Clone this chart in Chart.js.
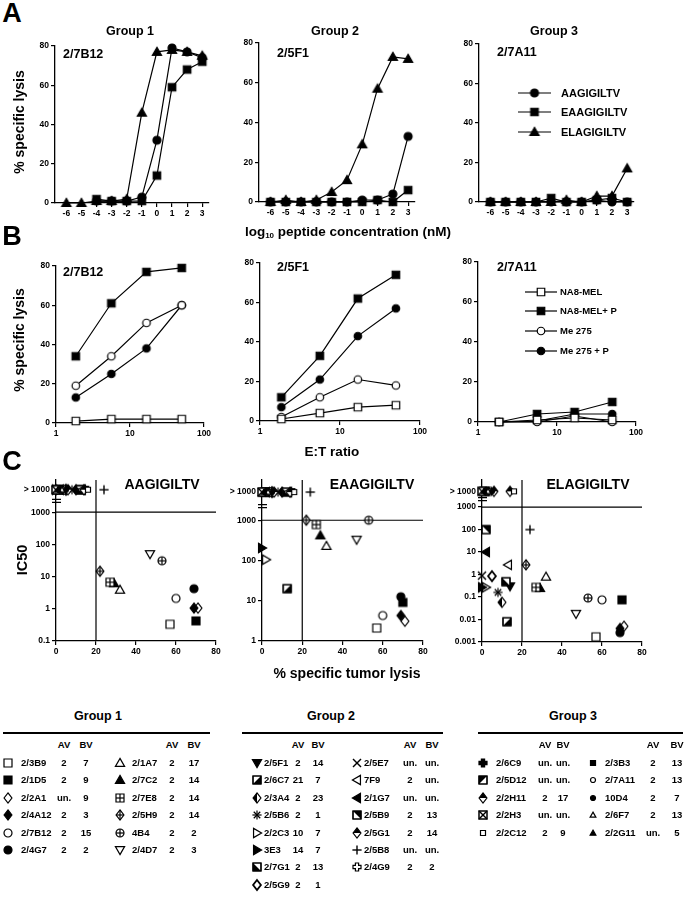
<!DOCTYPE html>
<html>
<head>
<meta charset="utf-8">
<script src="https://cdn.jsdelivr.net/npm/chart.js@4.4.1/dist/chart.umd.min.js"></script>
<style>
    body { margin: 0; background: #fff; }
    #fig { position: relative; width: 694px; height: 899px; overflow: hidden; background: #fff;
           font-family: "Liberation Sans", Arial, Helvetica, sans-serif; font-weight: bold; color: #000; }
    .t { position: absolute; white-space: nowrap; line-height: 1; }
    canvas { position: absolute; }
</style>
</head>
<body>
<div id="fig"></div>
<script>
const FONT = '"Liberation Sans", Arial, Helvetica, sans-serif';

// ---------- panel A: lysis vs log10 peptide concentration ----------
const concLog = [-6, -5, -4, -3, -2, -1, 0, 1, 2, 3];
const peptides = ["AAGIGILTV", "EAAGIGILTV", "ELAGIGILTV"];
const a7B12_AAG = [null, null, 1, 1, 1, 3, 32, 79, 77, 74];
const a7B12_EAAG = [null, null, 2, 1, 1, 1, 14, 59, 68, 72];
const a7B12_ELAG = [0, 0, 1, 1, 2, 46, 77, 78, 77, 75];
const a5F1_AAG = [0, 0, 0, 0, 0, 0, 1, 1, 4, 33];
const a5F1_EAAG = [0, 0, 0, 0, 0, 0, 0, 1, 0, 6];
const a5F1_ELAG = [0, 1, 0, 1, 5, 11, 29, 57, 73, 72];
const a7A11_AAG = [0, 0, 0, 0, 0, 0, 0, 1, 0, 0];
const a7A11_EAAG = [0, 0, 0, 0, 2, 0, 0, 1, 2, 0];
const a7A11_ELAG = [0, 0, 0, 0, 0, 1, 0, 3, 3, 17];
const percentTicks = [0, 20, 40, 60, 80];

// ---------- panel B: lysis vs E:T ratio ----------
const etRatio = [1.85, 5.6, 16.7, 50];
const etTicks = [1, 10, 100];
const targets = ["NA8-MEL", "NA8-MEL+ P", "Me 275", "Me 275 + P"];
const b7B12_NA8 = [1, 2, 2, 2];
const b7B12_NA8P = [34, 61, 77, 79];
const b7B12_Me275 = [19, 34, 51, 60];
const b7B12_Me275P = [13, 25, 38, 60];
const b5F1_NA8 = [1, 4, 7, 8];
const b5F1_NA8P = [12, 33, 62, 74];
const b5F1_Me275 = [2, 12, 21, 18];
const b5F1_Me275P = [7, 21, 43, 57];
const b7A11_NA8 = [0, 1, 2, 1];
const b7A11_NA8P = [0, 4, 5, 10];
const b7A11_Me275 = [0, 0, 3, 0];
const b7A11_Me275P = [0, 0.5, 4, 4];

// ---------- panel C: IC50 vs % specific tumor lysis, one entry per clone ----------
const GT = ">1000";
const cloneName = ["2/3B9", "2/1D5", "2/2A1", "2/4A12", "2/7B12", "2/4G7", "2/1A7", "2/7C2", "2/7E8", "2/5H9", "4B4", "2/4D7",
    "2/5F1", "2/6C7", "2/3A4", "2/5B6", "2/2C3", "3E3", "2/7G1", "2/5G9", "2/5E7", "7F9", "2/1G7", "2/5B9", "2/5G1", "2/5B8", "2/4G9",
    "2/6C9", "2/5D12", "2/2H11", "2/2H3", "2/2C12", "2/3B3", "2/7A11", "10D4", "2/6F7", "2/2G11"];
const cloneGroup = [1, 1, 1, 1, 1, 1, 1, 1, 1, 1, 1, 1,
    2, 2, 2, 2, 2, 2, 2, 2, 2, 2, 2, 2, 2, 2, 2,
    3, 3, 3, 3, 3, 3, 3, 3, 3, 3];
const cloneMarker = ["sq", "sqf", "dia", "diaf", "ci", "cif", "tri", "trif", "sqG", "diaX", "ciP", "trid",
    "tridf", "sqBR", "diaL", "ast", "trir", "trirf", "sqBL", "diaO", "x", "tril", "trilf", "sqTR", "diaT", "plus", "crossO",
    "crossF", "sqTL", "diaT", "sqX", "sq:s", "sqf:s", "ci:s", "cif:s", "tri:s", "trif:s"];
const cloneAV = ["2", "2", "un.", "2", "2", "2", "2", "2", "2", "2", "2", "2",
    "2", "21", "2", "2", "10", "14", "2", "2", "un.", "2", "un.", "2", "2", "un.", "2",
    "un.", "un.", "2", "un.", "2", "2", "2", "2", "2", "un."];
const cloneBV = ["7", "9", "9", "3", "15", "2", "17", "14", "14", "14", "2", "3",
    "14", "7", "23", "1", "7", "7", "13", "1", "un.", "un.", "un.", "13", "14", "un.", "2",
    "un.", "un.", "17", "un.", "9", "13", "13", "7", "13", "5"];
const tumorLysis = [57, 70, 71, 69, 60, 69, 32, 29, 27, 22, 53, 47,
    14, 12.5, 10, 8, 2, 0, 12, 5, 0, 13, 2, 2, 14, 24, 4,
    3, 1, 6, 0, 16, 2, 4, 5, 3, 1];
const ic50AAG = [0.33, 0.42, 1.05, 1.05, 2.1, 4.2, 3.9, 6.2, 6.7, 14.6, 31, 50,
    GT, GT, GT, GT, GT, GT, GT, GT, GT, GT, GT, GT, GT, GT, GT,
    GT, GT, GT, GT, GT, GT, GT, GT, GT, GT];
const ic50EAAG = [2.1, 9.1, 3.1, 4.3, 4.3, 12.6, 230, 420, 780, 1000, 1000, 330,
    GT, 20, GT, GT, 105, 205, GT, GT, GT, GT, GT, GT, GT, GT, GT,
    GT, GT, GT, GT, GT, GT, GT, GT, GT, GT];
const ic50ELAG = [0.0017, 0.075, 0.005, 0.004, 0.075, 0.0026, 0.8, 0.25, 0.27, 2.7, 0.09, 0.018,
    0.3, 0.008, 0.058, 0.16, 0.27, 0.27, 0.48, 0.85, 0.9, 2.7, 10, 100, GT, 100, GT,
    GT, GT, GT, GT, GT, GT, GT, GT, GT, GT];
const lysisCutoff = 20;
const ic50Cutoff = 1000;
const ABOVE = 5000; // where ">1000" sits on the log axis

const fig = document.getElementById("fig");

// ---------- helpers ----------
function text(html, x, y, size, opts = {}) {
    const d = document.createElement("div");
    d.className = "t";
    d.innerHTML = html;
    d.style.fontSize = size + "px";
    d.style.left = x + "px";
    d.style.top = y + "px";
    const ax = opts.align === "left" ? "0" : "-50%";
    d.style.transform = `translate(${ax}, -50%)` + (opts.rotate ? " rotate(-90deg)" : "");
    fig.appendChild(d);
    return d;
}

function marker(spec, base) {
    const [kind, small] = spec.split(":");
    const size = small ? 5 : (base || 8);
    const S = Math.ceil(size * 1.5) + 4;
    const c = document.createElement("canvas");
    c.width = S;
    c.height = S;
    const g = c.getContext("2d");
    g.translate(S / 2, S / 2);
    g.lineWidth = 1.2;
    g.strokeStyle = "#000";
    g.fillStyle = "#000";
    const r = size / 2, R = r * 1.15;
    const poly = (pts) => { g.beginPath(); pts.forEach(([x, y], i) => i ? g.lineTo(x, y) : g.moveTo(x, y)); g.closePath(); };
    const open = () => { g.fillStyle = "#fff"; g.fill(); g.fillStyle = "#000"; g.stroke(); };
    const solid = () => { g.fill(); g.stroke(); };
    const seg = (x1, y1, x2, y2) => { g.beginPath(); g.moveTo(x1, y1); g.lineTo(x2, y2); g.stroke(); };
    const sq = () => poly([[-r, -r], [r, -r], [r, r], [-r, r]]);
    const ci = () => { g.beginPath(); g.arc(0, 0, r, 0, Math.PI * 2); };
    const dia = () => poly([[0, -R * 1.1], [R * 0.85, 0], [0, R * 1.1], [-R * 0.85, 0]]);
    const tri = { up: [[0, -R], [R, R * 0.75], [-R, R * 0.75]], dn: [[0, R], [R, -R * 0.75], [-R, -R * 0.75]],
        rt: [[R, 0], [-R * 0.75, -R], [-R * 0.75, R]], lt: [[-R, 0], [R * 0.75, -R], [R * 0.75, R]] };
    const half = (pts) => { sq(); open(); poly(pts); g.fill(); sq(); g.stroke(); };
    switch (kind) {
        case "sq": sq(); open(); break;
        case "sqf": sq(); solid(); break;
        case "ci": ci(); open(); break;
        case "cif": ci(); solid(); break;
        case "tri": poly(tri.up); open(); break;
        case "trif": poly(tri.up); solid(); break;
        case "trid": poly(tri.dn); open(); break;
        case "tridf": poly(tri.dn); solid(); break;
        case "trir": poly(tri.rt); open(); break;
        case "trirf": poly(tri.rt); solid(); break;
        case "tril": poly(tri.lt); open(); break;
        case "trilf": poly(tri.lt); solid(); break;
        case "dia": dia(); open(); break;
        case "diaf": dia(); solid(); break;
        case "diaO": g.lineWidth = 1.8; dia(); open(); break;
        case "diaL": dia(); open(); poly([[0, -R * 1.1], [-R * 0.85, 0], [0, R * 1.1]]); g.fill(); break;
        case "diaT": dia(); open(); poly([[-R * 0.85, 0], [0, -R * 1.1], [R * 0.85, 0]]); g.fill(); break;
        case "diaX": dia(); open(); seg(0, -R * 1.1, 0, R * 1.1); seg(-R * 0.85, 0, R * 0.85, 0); break;
        case "sqG": sq(); open(); seg(0, -r, 0, r); seg(-r, 0, r, 0); break;
        case "ciP": ci(); open(); seg(0, -r, 0, r); seg(-r, 0, r, 0); break;
        case "sqBR": half([[r, -r], [r, r], [-r, r]]); break;
        case "sqBL": half([[-r, -r], [-r, r], [r, r]]); break;
        case "sqTR": half([[-r, -r], [r, -r], [r, r]]); break;
        case "sqTL": half([[-r, -r], [r, -r], [-r, r]]); break;
        case "sqX": g.lineWidth = 1.5; sq(); open(); seg(-r, -r, r, r); seg(-r, r, r, -r); break;
        case "ast":
            for (let a = 0; a < 4; a++) {
                const t = a * Math.PI / 4, dx = Math.cos(t) * R, dy = Math.sin(t) * R;
                seg(-dx, -dy, dx, dy);
            }
            break;
        case "x": g.lineWidth = 1.4; seg(-r, -r, r, r); seg(-r, r, r, -r); break;
        case "plus": g.lineWidth = 1.4; seg(0, -R, 0, R); seg(-R, 0, R, 0); break;
        case "crossO":
        case "crossF": {
            const w = r * 0.4;
            poly([[-w, -r], [w, -r], [w, -w], [r, -w], [r, w], [w, w], [w, r], [-w, r], [-w, w], [-r, w], [-r, -w], [-w, -w]]);
            kind === "crossF" ? solid() : open();
            break;
        }
    }
    return c;
}

function place(area) {
    const c = document.createElement("canvas");
    c.width = area.r - area.l + 52;
    c.height = area.b - area.t + 34;
    c.style.left = (area.l - 40) + "px";
    c.style.top = (area.t - 12) + "px";
    fig.appendChild(c);
    return c;
}

function axis(extra, ticksList, label, isY) {
    return Object.assign({
        border: { display: true, color: "#000", width: 1.3 },
        grid: { display: true, drawOnChartArea: false, drawTicks: true, tickLength: 4, color: "#000", lineWidth: 1.2 },
        ticks: { color: "#000", font: { family: FONT, size: 8.5, weight: "bold" }, padding: 2, autoSkip: false,
                 maxRotation: 0, callback: label || ((v) => String(v)) },
        afterBuildTicks: (s) => { s.ticks = ticksList.map((v) => ({ value: v })); },
        afterFit: (s) => { if (isY) s.width = 40; else s.height = 22; },
    }, extra);
}

function baseOptions(xAxis, yAxis) {
    return {
        responsive: false, animation: false, devicePixelRatio: 1, events: [],
        layout: { padding: { left: 0, top: 12, right: 12, bottom: 0 } },
        plugins: { legend: { display: false }, tooltip: { enabled: false } },
        scales: { x: xAxis, y: yAxis },
    };
}

function lineChart(area, xs, xAxis, series, markers) {
    new Chart(place(area), {
        type: "scatter",
        data: {
            datasets: series.map((s, i) => ({
                data: s.map((v, j) => ({ x: xs[j], y: v })),
                showLine: true, borderColor: "#000", borderWidth: 1.2,
                pointStyle: markers[i], pointRadius: 4, clip: false,
            })),
        },
        options: baseOptions(xAxis, axis({ min: 0, max: 80 }, percentTicks, null, true)),
    });
}

const refLines = {
    id: "refLines",
    beforeDatasetsDraw(chart) {
        const { ctx, chartArea: a, scales: { x, y } } = chart;
        ctx.save();
        ctx.strokeStyle = "#000";
        ctx.lineWidth = 1.2;
        const xv = x.getPixelForValue(lysisCutoff), yv = y.getPixelForValue(ic50Cutoff);
        ctx.beginPath();
        ctx.moveTo(xv, a.top); ctx.lineTo(xv, a.bottom);
        ctx.moveTo(a.left, yv); ctx.lineTo(a.right, yv);
        // axis break marks between 1000 and >1000
        const yb = y.getPixelForValue(Math.sqrt(ic50Cutoff * ABOVE));
        ctx.moveTo(a.left - 4, yb - 1.5); ctx.lineTo(a.left + 5, yb - 1.5);
        ctx.moveTo(a.left - 4, yb + 1.5); ctx.lineTo(a.left + 5, yb + 1.5);
        ctx.stroke();
        ctx.restore();
    },
};

function ic50Chart(area, yMin, yMax, yTicks, ic50) {
    const pts = ic50.map((v, i) => ({ x: tumorLysis[i], y: v === GT ? ABOVE : v }));
    new Chart(place(area), {
        type: "scatter",
        data: { datasets: [{ data: pts, pointStyle: cloneMarker.map((m) => marker(m)), pointRadius: 4, clip: false }] },
        options: baseOptions(
            axis({ type: "linear", min: 0, max: 80 }, [0, 20, 40, 60, 80]),
            axis({ type: "logarithmic", min: yMin, max: yMax }, yTicks, (v) => v === ABOVE ? "> 1000" : String(v), true)
        ),
        plugins: [refLines],
    });
}

// ---------- panel A ----------
const pepMarkers = () => [marker("cif"), marker("sqf", 7.5), marker("trif", 8)];
const concAxis = () => axis({ type: "linear", min: -6.75, max: 3.45 }, concLog);
lineChart({ l: 55, t: 46, r: 209, b: 203 }, concLog, concAxis(), [a7B12_AAG, a7B12_EAAG, a7B12_ELAG], pepMarkers());
lineChart({ l: 259, t: 43, r: 415, b: 202 }, concLog, concAxis(), [a5F1_AAG, a5F1_EAAG, a5F1_ELAG], pepMarkers());
lineChart({ l: 479, t: 44, r: 634, b: 202 }, concLog, concAxis(), [a7A11_AAG, a7A11_EAAG, a7A11_ELAG], pepMarkers());

// ---------- panel B ----------
const tgtMarkers = () => [marker("sq", 7.5), marker("sqf", 7.5), marker("ci", 7.5), marker("cif", 7.5)];
const etAxis = () => axis({ type: "logarithmic", min: 1, max: 100 }, etTicks);
lineChart({ l: 56, t: 266, r: 204, b: 423 }, etRatio, etAxis(), [b7B12_NA8, b7B12_NA8P, b7B12_Me275, b7B12_Me275P], tgtMarkers());
lineChart({ l: 260, t: 263, r: 420, b: 421 }, etRatio, etAxis(), [b5F1_NA8, b5F1_NA8P, b5F1_Me275, b5F1_Me275P], tgtMarkers());
lineChart({ l: 478, t: 262, r: 636, b: 422 }, etRatio, etAxis(), [b7A11_NA8, b7A11_NA8P, b7A11_Me275, b7A11_Me275P], tgtMarkers());

// ---------- panel C ----------
ic50Chart({ l: 56, t: 480, r: 216, b: 641 }, 0.1, 10000, [0.1, 1, 10, 100, 1000, ABOVE], ic50AAG);
ic50Chart({ l: 262, t: 480, r: 423, b: 641 }, 1, 10000, [1, 10, 100, 1000, ABOVE], ic50EAAG);
ic50Chart({ l: 482, t: 480, r: 642, b: 642 }, 0.001, 16000, [0.001, 0.01, 0.1, 1, 10, 100, 1000, ABOVE], ic50ELAG);

// ---------- legends drawn as line + marker ----------
function legendRow(sym, label, x0, x1, textX, y, size) {
    const c = document.createElement("canvas");
    c.width = x1 - x0;
    c.height = 14;
    c.style.left = x0 + "px";
    c.style.top = (y - 7) + "px";
    const g = c.getContext("2d");
    g.strokeStyle = "#000";
    g.lineWidth = 1.2;
    g.beginPath(); g.moveTo(0, 7); g.lineTo(c.width, 7); g.stroke();
    g.drawImage(sym, c.width / 2 - sym.width / 2, 7 - sym.height / 2);
    fig.appendChild(c);
    text(label, textX, y, size, { align: "left" });
}
pepMarkers().forEach((m, i) => legendRow(m, peptides[i], 518, 551, 561, [93, 112, 132][i], 11));
tgtMarkers().forEach((m, i) => legendRow(m, targets[i], 525, 557, 560, [292, 311, 331, 351][i], 9.5));

// ---------- text ----------
text("A", 12, 13, 27);
text("B", 12, 236, 27);
text("C", 12, 461, 27);
[["Group 1", 130], ["Group 2", 335], ["Group 3", 554]].forEach(([s, x]) => text(s, x, 31, 12.5));
[["2/7B12", 63, 54], ["2/5F1", 277, 53], ["2/7A11", 497, 52]].forEach(([s, x, y]) => text(s, x, y, 12.5, { align: "left" }));
[["2/7B12", 63, 272], ["2/5F1", 277, 267], ["2/7A11", 497, 267]].forEach(([s, x, y]) => text(s, x, y, 12.5, { align: "left" }));
text("% specific lysis", 19, 122, 14, { rotate: true });
text("% specific lysis", 19, 340, 14, { rotate: true });
text("IC50", 22, 560, 14.5, { rotate: true });
text('log<span style="font-size:8px;vertical-align:-2px">10</span> peptide concentration (nM)', 348, 232, 13.5);
text("E:T ratio", 332, 452, 13.5);
text("% specific tumor lysis", 347, 673, 14);
[["AAGIGILTV", 162], ["EAAGIGILTV", 372], ["ELAGIGILTV", 588]].forEach(([s, x]) => text(s, x, 484, 14));

// ---------- clone tables ----------
const tableLayout = [
    { group: 1, title: 98, line: [3, 210], cols: [[8, 21, 64, 86], [120, 132, 172, 194]], split: 6 },
    { group: 2, title: 331, line: [242, 443], cols: [[257, 264, 298, 318], [357, 364, 410, 432]], split: 8 },
    { group: 3, title: 573, line: [478, 683], cols: [[483, 496, 545, 563], [593, 605, 653, 677]], split: 5 },
];
tableLayout.forEach((tb) => {
    text("Group " + tb.group, tb.title, 716, 12.5);
    const ln = document.createElement("div");
    ln.style.cssText = `position:absolute;left:${tb.line[0]}px;top:732px;width:${tb.line[1] - tb.line[0]}px;height:1.5px;background:#000`;
    fig.appendChild(ln);
    tb.cols.forEach((col) => { text("AV", col[2], 745, 9.5); text("BV", col[3], 745, 9.5); });
    const idx = cloneGroup.map((g, i) => g === tb.group ? i : -1).filter((i) => i >= 0);
    idx.forEach((ci, k) => {
        const col = tb.cols[k < tb.split ? 0 : 1];
        const row = k < tb.split ? k : k - tb.split;
        const y = 763 + row * 17.4;
        const m = marker(cloneMarker[ci]);
        m.style.left = (col[0] - m.width / 2) + "px";
        m.style.top = (y - m.height / 2) + "px";
        fig.appendChild(m);
        text(cloneName[ci], col[1], y, 9.5, { align: "left" });
        text(cloneAV[ci], col[2], y, 9.5);
        text(cloneBV[ci], col[3], y, 9.5);
    });
});
</script>
</body>
</html>
